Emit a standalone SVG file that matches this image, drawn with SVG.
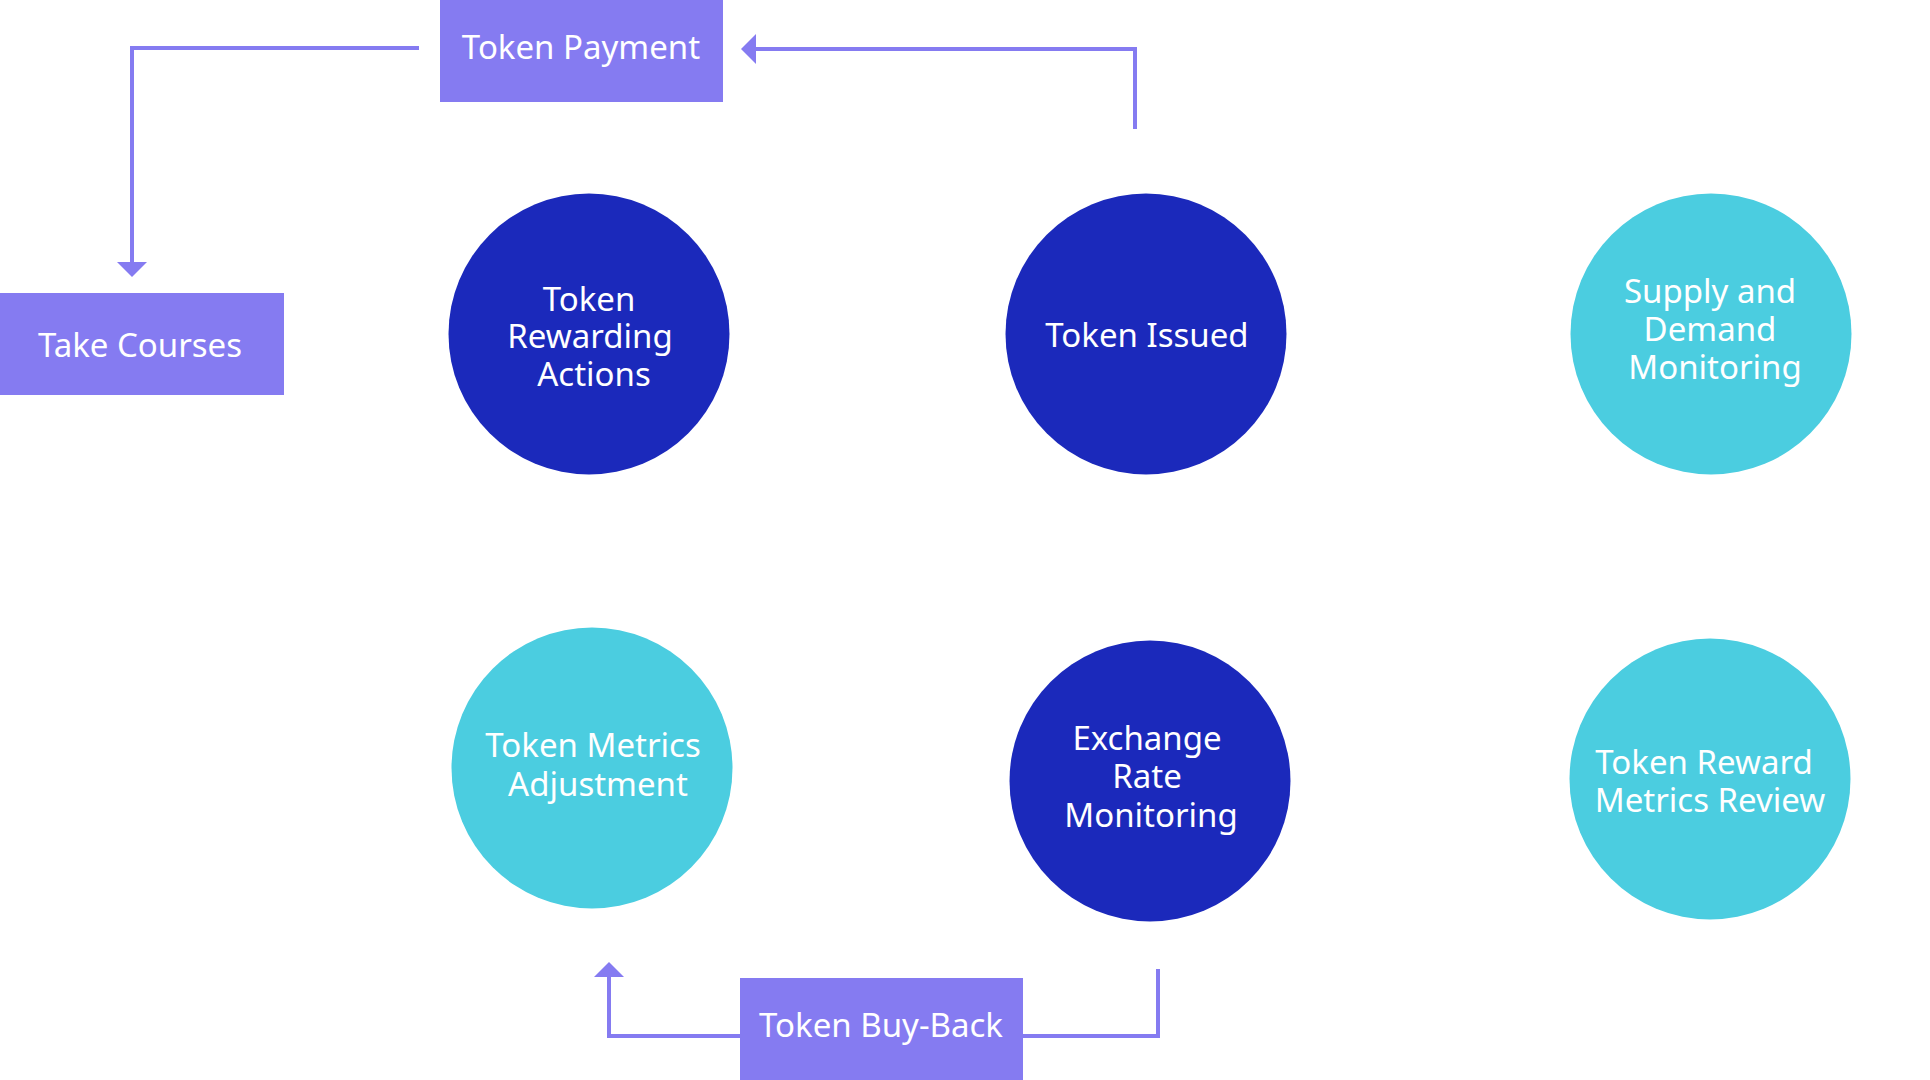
<svg xmlns="http://www.w3.org/2000/svg" width="1930" height="1080" viewBox="0 0 1930 1080">
<style>
.dark{fill:#1b29bb}
.light{fill:#4bcde0}
.box{fill:#857bf1}
.lbl{font-family:"Noto Sans","Open Sans","DejaVu Sans",sans-serif;font-size:33px;fill:#ffffff;text-anchor:middle}
.conn{fill:none;stroke:#857bf1;stroke-width:4}
</style>
<defs>
<marker id="arrow" viewBox="0 0 15 30" markerWidth="15" markerHeight="30" refX="0" refY="15" orient="auto" markerUnits="userSpaceOnUse">
<path d="M0,0 L15,15 L0,30 Z" fill="#857bf1"/>
</marker>
</defs>
<rect width="1930" height="1080" fill="#ffffff"/>
<g id="connectors">
<path class="conn" d="M1135,129 V49 H756" marker-end="url(#arrow)"/>
<path class="conn" d="M419,48 H132 V262" marker-end="url(#arrow)"/>
<path class="conn" d="M1158,969 V1036 H1022"/>
<path class="conn" d="M740,1036 H609 V977" marker-end="url(#arrow)"/>
</g>
<g id="token-payment">
<rect class="box" x="440" y="0" width="283" height="102"/>
<text class="lbl" x="581" y="59">Token Payment</text>
</g>
<g id="take-courses">
<rect class="box" x="0" y="293" width="284" height="102"/>
<text class="lbl" x="140" y="357">Take Courses</text>
</g>
<g id="token-buy-back">
<rect class="box" x="740" y="978" width="283" height="102"/>
<text class="lbl" x="881" y="1037">Token Buy-Back</text>
</g>
<g id="token-rewarding-actions">
<circle class="dark" cx="589" cy="334" r="140.5"/>
<text class="lbl" x="589" y="311">Token</text>
<text class="lbl" x="590" y="348">Rewarding</text>
<text class="lbl" x="594" y="386">Actions</text>
</g>
<g id="token-issued">
<circle class="dark" cx="1146" cy="334" r="140.5"/>
<text class="lbl" x="1147" y="347">Token Issued</text>
</g>
<g id="supply-demand-monitoring">
<circle class="light" cx="1711" cy="334" r="140.5"/>
<text class="lbl" x="1710" y="303">Supply and</text>
<text class="lbl" x="1710" y="341">Demand</text>
<text class="lbl" x="1715" y="379">Monitoring</text>
</g>
<g id="token-metrics-adjustment">
<circle class="light" cx="592" cy="768" r="140.5"/>
<text class="lbl" x="593" y="757">Token Metrics</text>
<text class="lbl" x="598" y="796">Adjustment</text>
</g>
<g id="exchange-rate-monitoring">
<circle class="dark" cx="1150" cy="781" r="140.5"/>
<text class="lbl" x="1147" y="750">Exchange</text>
<text class="lbl" x="1147" y="788">Rate</text>
<text class="lbl" x="1151" y="827">Monitoring</text>
</g>
<g id="token-reward-metrics-review">
<circle class="light" cx="1710" cy="779" r="140.5"/>
<text class="lbl" x="1704" y="774">Token Reward</text>
<text class="lbl" x="1710" y="812">Metrics Review</text>
</g>
</svg>
